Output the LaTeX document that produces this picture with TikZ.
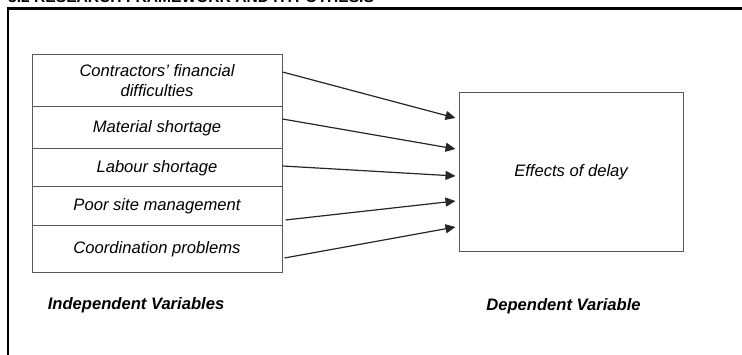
\documentclass[tikz,border=0pt]{standalone}
\usepackage{fontspec}
\setmainfont{Liberation Sans}
\usetikzlibrary{arrows.meta}

\tikzset{
  rowbox/.style = {draw=black!65, line width=1pt, minimum width=250pt, inner sep=0pt,
                   align=center, font=\fontsize{16.6}{20}\selectfont\itshape},
  arr/.style = {draw=black!85, line width=1.2pt, -{Triangle[length=10pt,width=9pt]}},
  varlabel/.style = {font=\fontsize{16.6}{20}\selectfont\bfseries\itshape}
}

\begin{document}
\begin{tikzpicture}[x=1pt, y=1pt]

\useasboundingbox (0,0) rectangle (742,355);
\clip (0,0) rectangle (742,355);

% heading, cut at the top edge
\node[anchor=base west, inner sep=0pt, font=\fontsize{15.6}{18}\selectfont\bfseries] (heading) at (8,352.5) {3.2 RESEARCH FRAMEWORK AND HYPOTHESIS};

% frame
\draw[line width=2.5pt] (745,346.5) -- (8,346.5) -- (8,-5);

% independent variables
\node[rowbox, minimum height=52pt] (fin) at (157,274) {Contractors' financial\\difficulties};
\node[rowbox, minimum height=42pt] (mat) at (157,227) {Material shortage};
\node[rowbox, minimum height=38pt] (lab) at (157,187) {Labour shortage};
\node[rowbox, minimum height=39pt] (site) at (157,148.5) {Poor site management};
\node[rowbox, minimum height=47pt] (coord) at (157,105.5) {Coordination problems};

% dependent variable
\node[rowbox, minimum width=224pt, minimum height=159pt] (effect) at (571,182.5) {Effects of delay};

\draw[arr] ([yshift=9pt]fin.east) -- ([xshift=-3pt, yshift=54.5pt]effect.west);
\draw[arr] ([yshift=9pt]mat.east) -- ([xshift=-3pt, yshift=23.5pt]effect.west);
\draw[arr] ([yshift=2pt]lab.east) -- ([xshift=-3pt, yshift=-3.5pt]effect.west);
\draw[arr] ([xshift=3pt, yshift=-13.5pt]site.east) -- ([xshift=-3pt, yshift=-28.5pt]effect.west);
\draw[arr] ([xshift=2pt, yshift=-8.5pt]coord.east) -- ([xshift=-3pt, yshift=-54.5pt]effect.west);

\node[varlabel] (indep) at (136,50) {Independent Variables};
\node[varlabel] (dep) at (563.5,49) {Dependent Variable};

\end{tikzpicture}
\end{document}
